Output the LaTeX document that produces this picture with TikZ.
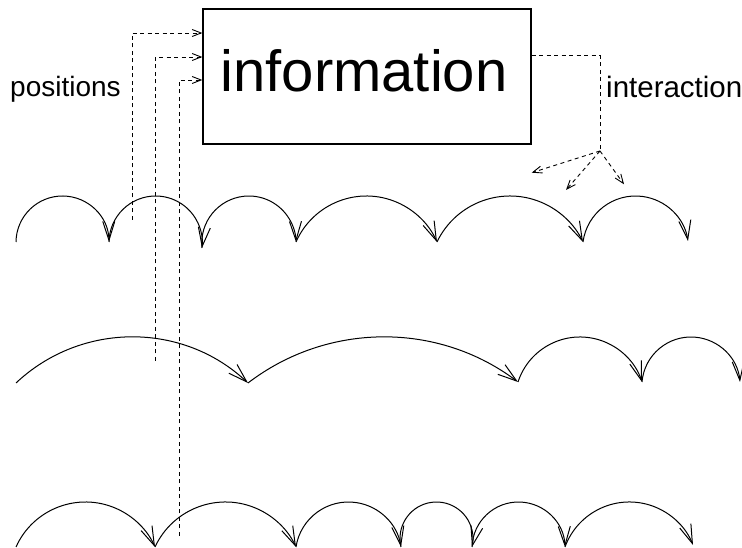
\documentclass[tikz,border=0pt]{standalone}
\usepackage{fontspec}
\setmainfont{Liberation Sans}
\usetikzlibrary{arrows.meta}
\tikzset{
  hopline/.style={line width=1pt,-{Straight Barb[length=19pt,width=12pt,line width=1pt]}},
  dashline/.style={line width=0.9pt,dash pattern=on 4pt off 3.5pt},
  dasharrow/.style={dashline,-{Straight Barb[length=9pt,width=7pt,line width=0.9pt]}},
  infobox/.style={draw,line width=1.3pt,minimum width=328pt,minimum height=135pt,inner sep=0pt},
  biglabel/.style={inner sep=0pt,font=\fontsize{58}{60}\selectfont},
  sidelabel/.style={inner sep=0pt,font=\fontsize{28}{30}\selectfont},
  sidelabelwide/.style={inner sep=0pt,font=\fontsize{29.5}{31}\selectfont}
}
% arc through three points given in page coordinates (y downwards)
\newcommand{\hoparc}[6]{%
  \pgfmathsetmacro{\hAx}{(#3-#1)/100}%
  \pgfmathsetmacro{\hAy}{(#2-#4)/100}%
  \pgfmathsetmacro{\hBx}{(#5-#1)/100}%
  \pgfmathsetmacro{\hBy}{(#2-#6)/100}%
  \pgfmathsetmacro{\hD}{2*(\hAx*\hBy-\hAy*\hBx)}%
  \pgfmathsetmacro{\hAA}{\hAx*\hAx+\hAy*\hAy}%
  \pgfmathsetmacro{\hBB}{\hBx*\hBx+\hBy*\hBy}%
  \pgfmathsetmacro{\hUx}{(\hBy*\hAA-\hAy*\hBB)/\hD}%
  \pgfmathsetmacro{\hUy}{(\hAx*\hBB-\hBx*\hAA)/\hD}%
  \pgfmathsetmacro{\hR}{100*sqrt(\hUx*\hUx+\hUy*\hUy)}%
  \pgfmathsetmacro{\hS}{atan2(-\hUy,-\hUx)}%
  \pgfmathsetmacro{\hE}{atan2(\hBy-\hUy,\hBx-\hUx)}%
  \pgfmathsetmacro{\hE}{\hE>\hS ? \hE-360 : \hE}%
  \draw[hopline] (#1,{548-#2}) arc[start angle=\hS, end angle=\hE, radius=\hR];%
}
\begin{document}
\begin{tikzpicture}[x=1pt,y=1pt]
\useasboundingbox (0,0) rectangle (742,548);

% information box
\node[infobox] (box) at (367,471.5) {};
\node[biglabel,anchor=base] (infotext) at (364,456.3) {information};
\node[sidelabel,anchor=base west] (poslabel) at (10,451) {positions};
\node[sidelabelwide,anchor=base west] (intlabel) at (606,450) {interaction};

% position feeds
\coordinate (p1) at (132,328);
\coordinate (p2) at (155.7,187);
\coordinate (p3) at (179,12);
\draw[dasharrow] (p1) |- (box.west |- 0,515);
\draw[dasharrow] (p2) |- (box.west |- 0,491);
\draw[dasharrow] (p3) |- (box.west |- 0,468);

% interaction
\coordinate (ij) at (600,397);
\coordinate (t1) at (531.7,375.3);
\coordinate (t2) at (566,358);
\coordinate (t3) at (624,363.7);
\draw[dashline] (box.east |- 0,492.3) -| (ij);
\draw[dasharrow] (ij) -- (t1);
\draw[dasharrow] (ij) -- (t2);
\draw[dasharrow] (ij) -- (t3);

% row 1
\hoparc{16}{242}{62}{196}{109}{242}
\hoparc{109}{242}{156}{196}{202}{248}
\hoparc{202}{248}{249}{196}{296}{242}
\hoparc{296}{242}{366}{196}{437}{242}
\hoparc{437}{242}{510}{196}{583}{242}
\hoparc{583}{242}{635}{196}{688}{241}

% row 2
\hoparc{16}{383}{130}{337}{248}{383}
\hoparc{248}{383}{383}{337}{518}{382}
\hoparc{518}{382}{580}{337}{642}{382}
\hoparc{642}{382}{691}{337}{740}{382}

% row 3
\hoparc{16}{547}{85}{502}{155}{547}
\hoparc{155}{547}{226}{502}{296}{547}
\hoparc{296}{547}{349}{502}{401}{547}
\hoparc{401}{547}{437}{502}{472}{547}
\hoparc{472}{547}{518}{502}{565}{547}
\hoparc{565}{547}{630}{502}{693}{545}
\end{tikzpicture}
\end{document}
